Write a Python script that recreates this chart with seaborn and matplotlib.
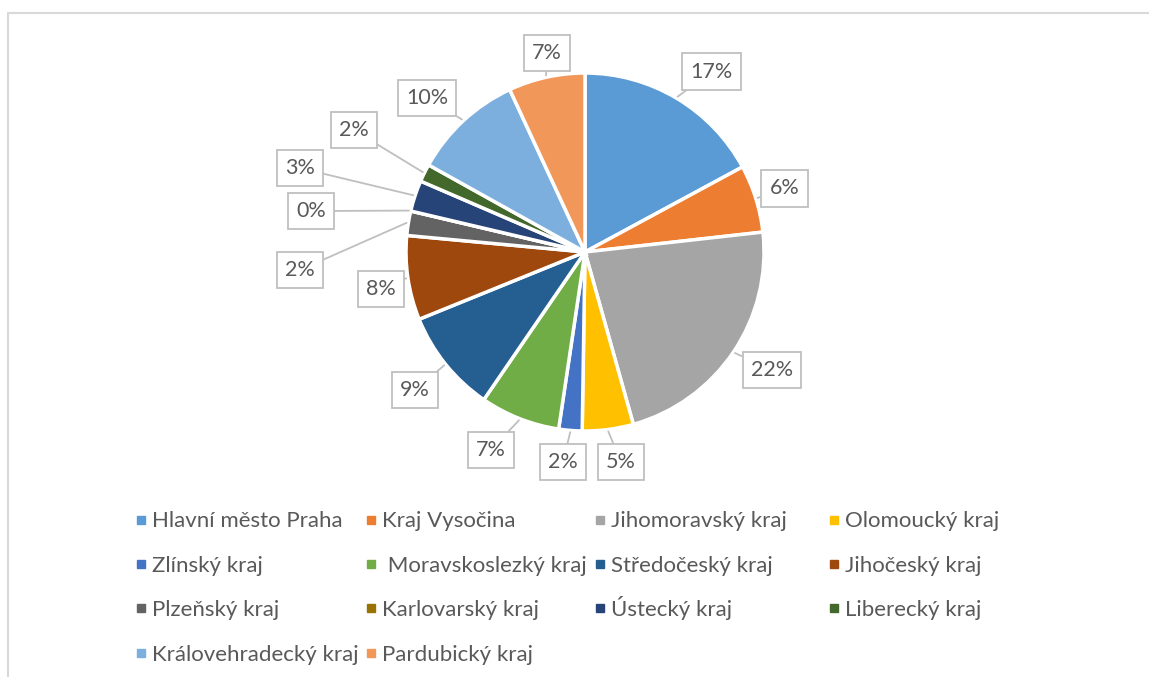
import matplotlib.pyplot as plt
import numpy as np
import seaborn as sns
from matplotlib.lines import Line2D
from matplotlib.patches import Rectangle

# Regions and their share (in %)
regions = [
    "Hlavní město Praha", "Kraj Vysočina", "Jihomoravský kraj", "Olomoucký kraj",
    "Zlínský kraj", " Moravskoslezký kraj", "Středočeský kraj", "Jihočeský kraj",
    "Plzeňský kraj", "Karlovarský kraj", "Ústecký kraj", "Liberecký kraj",
    "Královehradecký kraj", "Pardubický kraj",
]
shares = [17.1, 6.1, 22.4, 4.6, 2.1, 7.2, 9.3, 7.6, 2.2, 0.0, 2.8, 1.6, 10.0, 6.9]
colors = [
    "#5B9BD5", "#ED7D31", "#A5A5A5", "#FFC000", "#4472C4", "#70AD47", "#255E91",
    "#9E480E", "#636363", "#997300", "#264478", "#43682B", "#7CAFDD", "#F1975A",
]

# where each data label box sits: (angle in deg, distance in pie radii)
label_polar = [
    (55.0, 1.23), (17.7, 1.17), (-32.3, 1.235), (-80.3, 1.19), (-96.0, 1.18),
    (-115.4, 1.224), (-140.9, 1.223), (190.3, 1.158), (183.6, 1.595),
    (171.5, 1.548), (163.6, 1.66), (152.2, 1.459), (135.7, 1.233), (100.8, 1.132),
]

sns.set_theme(style="white")
plt.rcParams["font.family"] = ["Lato", "DejaVu Sans"]

W, H = 1149, 677
cx, cy, R = 585, 252, 179  # pie centre / radius in pixels

fig = plt.figure(figsize=(W / 100, H / 100), dpi=100)
ax = fig.add_axes([0, 0, 1, 1])

wedges, _ = ax.pie(
    shares,
    colors=colors,
    startangle=90,
    counterclock=False,
    radius=1,
    wedgeprops=dict(edgecolor="white", linewidth=2.5),
)
ax.set_aspect("auto")
ax.set_xlim(-cx / R, (W - cx) / R)
ax.set_ylim(-(H - cy) / R, cy / R)
ax.axis("off")

total = sum(shares)
for i, w in enumerate(wedges):
    mid = np.deg2rad((w.theta1 + w.theta2) / 2)
    ang, r = label_polar[i]
    ang = np.deg2rad(ang)
    ax.annotate(
        f"{shares[i] / total * 100:.0f}%",
        xy=(np.cos(mid) * 1.01, np.sin(mid) * 1.01),
        xytext=(np.cos(ang) * r, np.sin(ang) * r),
        ha="center", va="center", fontsize=15.5, color="#595959",
        bbox=dict(boxstyle="square,pad=0.38", fc="white", ec="#BFBFBF", lw=1.3),
        arrowprops=dict(arrowstyle="-", color="#BFBFBF", lw=1.3, shrinkA=0, shrinkB=0),
    )

# legend: Excel-style grid, filled row by row, baselines aligned
col_x = [0.1189, 0.3190, 0.5184, 0.7220]
row_y = [0.2152, 0.1495, 0.0838, 0.0181]
for i, name in enumerate(regions):
    r, c = divmod(i, 4)
    h = Line2D([], [], marker="s", linestyle="", markersize=5.5, color=colors[i])
    fig.legend(
        [h], [name], loc="lower left", bbox_to_anchor=(col_x[c], row_y[r]),
        frameon=False, fontsize=16, labelcolor="#595959", handlelength=0.4,
        handletextpad=0.3, borderpad=0, borderaxespad=0,
    )

# chart-area border (cropped on the right and bottom)
fig.patches.append(Rectangle((8 / W, -0.1), 1.2, (H - 13) / H + 0.1,
                             transform=fig.transFigure, fill=False,
                             ec="#D9D9D9", lw=1.5))

fig.savefig("out.png", dpi=100)
